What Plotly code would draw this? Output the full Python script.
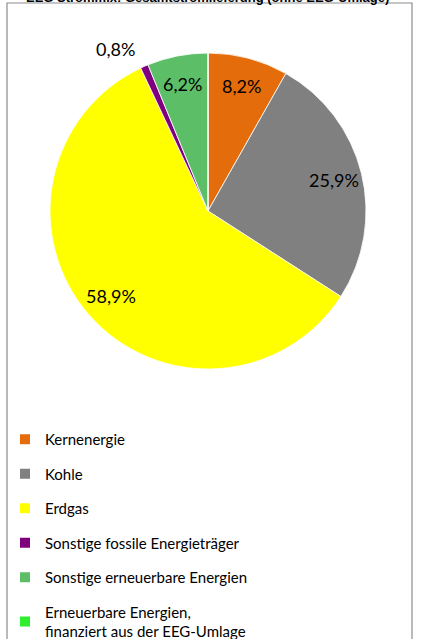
import math
import plotly.graph_objects as go

title_text = "EEG Strommix: Gesamtstromlieferung (ohne EEG-Umlage)"
labels = [
    "Kernenergie",
    "Kohle",
    "Erdgas",
    "Sonstige fossile Energieträger",
    "Sonstige erneuerbare Energien",
    "Erneuerbare Energien,<br>finanziert aus der EEG-Umlage",
]
values = [8.2, 25.9, 58.9, 0.8, 6.2, 0.0]
colors = ["#E46C0A", "#808080", "#FFFF00", "#7F007F", "#5CBF68", "#2EEE2E"]

W, H = 425, 639
cx, cy, r = 208, 211, 158

fig = go.Figure()
fig.add_trace(go.Pie(
    labels=labels,
    values=values,
    sort=False,
    direction="clockwise",
    rotation=0,
    marker=dict(colors=colors, line=dict(color="white", width=0.8)),
    textinfo="none",
    showlegend=False,
    hoverinfo="label+percent",
    domain=dict(x=[(cx - r) / W, (cx + r) / W], y=[1 - (cy + r) / H, 1 - (cy - r) / H]),
))

# data labels placed at the mid-angle of each slice (computed from the values)
annotations = []
total = sum(values)
cum = 0.0
for v in values:
    if v <= 0:
        continue
    theta = 2 * math.pi * (cum + v / 2) / total
    cum += v
    pct = 100 * v / total
    inside = pct >= 3
    f = 0.82 if inside else 1.12
    px = cx + f * r * math.sin(theta)
    py = cy - f * r * math.cos(theta)
    annotations.append(dict(
        text=f"{pct:.1f}%".replace(".", ","), xref="paper", yref="paper",
        x=px / W, y=1 - py / H,
        xanchor="center" if inside else ("right" if math.sin(theta) < 0 else "left"),
        yanchor="middle", showarrow=False,
        font=dict(family="Lato", size=18, color="black"),
    ))

for i, (lab, col) in enumerate(zip(labels, colors)):
    fig.add_trace(go.Scatter(
        x=[None], y=[None], mode="markers", name=lab,
        marker=dict(symbol="square", size=10, color=col),
        legendgroup=f"g{i}", showlegend=True, hoverinfo="skip",
    ))

annotations.append(dict(
    text="<b>" + title_text + "</b>", xref="paper", yref="paper",
    x=207 / W, y=1 - 7 / H, xanchor="center", yanchor="bottom",
    showarrow=False, font=dict(family="Liberation Sans", size=13, color="black"),
))

fig.update_layout(
    width=W, height=H,
    margin=dict(l=0, r=0, t=0, b=0, autoexpand=False),
    paper_bgcolor="white", plot_bgcolor="white",
    xaxis=dict(visible=False), yaxis=dict(visible=False),
    showlegend=True,
    legend=dict(
        x=5 / W, y=1 - 423 / H, xanchor="left", yanchor="top",
        font=dict(family="Lato", size=15, color="black"),
        tracegroupgap=12, bgcolor="rgba(0,0,0,0)",
        itemclick=False,
    ),
    shapes=[dict(
        type="rect", xref="paper", yref="paper",
        x0=7 / W, x1=412 / W, y0=-0.05, y1=1 - 3 / H,
        line=dict(color="#8C8C8C", width=1.2), layer="below",
    )],
    annotations=annotations,
)

fig.write_html("out.html", config={"displayModeBar": False},
               post_script="document.body.style.margin='0';")
